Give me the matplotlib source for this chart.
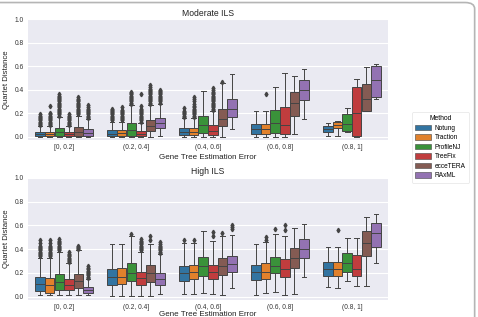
import numpy as np
import matplotlib
matplotlib.use("Agg")
import matplotlib.pyplot as plt
from matplotlib.patches import Patch, FancyBboxPatch

plt.rcParams['font.family'] = ['Liberation Sans', 'DejaVu Sans']

groups = ['[0, 0.2]', '(0.2, 0.4]', '(0.4, 0.6]', '(0.6, 0.8]', '(0.8, 1]']
methods = ['Notung', 'Traction', 'ProfileNJ', 'TreeFix', 'ecceTERA', 'RAxML']
colors = ['#3274a1', '#e1812c', '#3a923a', '#c03d3e', '#845b53', '#9372b2']
titles = ['Moderate ILS', 'High ILS']

# box stats, one row per error bin, one column per method
# Moderate ILS
lo_mod = [[0, 0, 0, 0, 0, 0],
          [0, 0, 0, 0, 0, 0.01],
          [0, 0, 0, 0, 0, 0.07],
          [0, 0, 0, 0, 0.02, 0.15],
          [0.005, 0.005, 0.045, 0, 0.215, 0.32]]
q1_mod = [[0.005, 0.005, 0.01, 0.005, 0.01, 0.01],
          [0.005, 0.005, 0.01, 0.005, 0.05, 0.075],
          [0.015, 0.015, 0.03, 0.015, 0.095, 0.17],
          [0.025, 0.025, 0.03, 0.02, 0.175, 0.31],
          [0.04, 0.075, 0.05, 0.003, 0.22, 0.335]]
med_mod = [[0.02, 0.02, 0.04, 0.02, 0.04, 0.035],
           [0.025, 0.03, 0.06, 0.025, 0.09, 0.12],
           [0.04, 0.04, 0.1, 0.05, 0.155, 0.24],
           [0.065, 0.065, 0.12, 0.1, 0.285, 0.4],
           [0.07, 0.1, 0.11, 0.2, 0.32, 0.48]]
q3_mod = [[0.04, 0.04, 0.077, 0.04, 0.08, 0.065],
          [0.055, 0.055, 0.115, 0.05, 0.14, 0.16],
          [0.075, 0.075, 0.175, 0.1, 0.24, 0.32],
          [0.105, 0.105, 0.225, 0.25, 0.38, 0.485],
          [0.095, 0.127, 0.19, 0.425, 0.445, 0.605]]
hi_mod = [[0.09, 0.09, 0.17, 0.09, 0.18, 0.15],
          [0.13, 0.13, 0.27, 0.12, 0.27, 0.28],
          [0.16, 0.16, 0.385, 0.22, 0.455, 0.53],
          [0.22, 0.22, 0.42, 0.54, 0.515, 0.575],
          [0.12, 0.135, 0.245, 0.49, 0.59, 0.615]]
fl_mod = [
    [[0.10, 0.11, 0.12, 0.13, 0.14, 0.15, 0.16, 0.17, 0.18, 0.19],
     [0.10, 0.11, 0.12, 0.13, 0.14, 0.15, 0.16, 0.17, 0.18, 0.19, 0.20, 0.26],
     [0.18, 0.19, 0.20, 0.21, 0.22, 0.23, 0.24, 0.25, 0.26, 0.27, 0.28, 0.29, 0.30, 0.31, 0.32, 0.33, 0.34, 0.35, 0.36],
     [0.10, 0.11, 0.12, 0.13, 0.14, 0.15, 0.16, 0.17, 0.18, 0.195],
     [0.19, 0.20, 0.21, 0.22, 0.23, 0.24, 0.25, 0.26, 0.27, 0.28, 0.29, 0.30, 0.31, 0.32, 0.34],
     [0.16, 0.17, 0.18, 0.19, 0.20, 0.21, 0.22, 0.23, 0.24, 0.25, 0.27]],
    [[0.14, 0.15, 0.16, 0.17, 0.18, 0.19, 0.20, 0.21, 0.22, 0.23, 0.24],
     [0.14, 0.15, 0.16, 0.17, 0.18, 0.19, 0.20, 0.21, 0.22, 0.23, 0.25],
     [0.28, 0.29, 0.30, 0.31, 0.32, 0.33, 0.34, 0.35, 0.36, 0.37, 0.38],
     [0.13, 0.14, 0.15, 0.16, 0.17, 0.18, 0.19, 0.20, 0.21, 0.22, 0.23, 0.24, 0.26, 0.365],
     [0.28, 0.29, 0.30, 0.31, 0.32, 0.33, 0.34, 0.35, 0.36, 0.37, 0.38, 0.39, 0.40, 0.41, 0.42, 0.44],
     [0.29, 0.30, 0.31, 0.32, 0.33, 0.34, 0.35, 0.36, 0.37, 0.38, 0.39, 0.40]],
    [[0.17, 0.18, 0.19, 0.20, 0.21, 0.22, 0.245],
     [0.17, 0.18, 0.19, 0.20, 0.21, 0.22, 0.23, 0.24, 0.25, 0.26, 0.28, 0.30, 0.32, 0.34],
     [],
     [0.23, 0.24, 0.25, 0.26, 0.27, 0.28, 0.29, 0.30, 0.31, 0.32, 0.33, 0.34, 0.35, 0.36, 0.37, 0.38, 0.40, 0.415],
     [0.465],
     []],
    [[], [0.365], [], [], [], []],
    [[], [], [], [], [], []]]

# High ILS
lo_high = [[0.01, 0.01, 0.01, 0.01, 0.01, 0.01],
           [0.005, 0.005, 0.005, 0.005, 0.005, 0.02],
           [0.02, 0.025, 0.03, 0.02, 0.01, 0.07],
           [0.015, 0.035, 0.04, 0.015, 0.02, 0.17],
           [0.085, 0.07, 0.135, 0.09, 0.09, 0.285]]
q1_high = [[0.045, 0.035, 0.06, 0.06, 0.075, 0.03],
           [0.1, 0.11, 0.13, 0.095, 0.125, 0.1],
           [0.135, 0.145, 0.175, 0.145, 0.185, 0.21],
           [0.14, 0.15, 0.2, 0.165, 0.24, 0.325],
           [0.175, 0.175, 0.205, 0.175, 0.34, 0.42]]
med_high = [[0.11, 0.095, 0.125, 0.1, 0.13, 0.055],
            [0.165, 0.165, 0.2, 0.155, 0.2, 0.145],
            [0.2, 0.205, 0.26, 0.21, 0.26, 0.275],
            [0.205, 0.21, 0.26, 0.235, 0.33, 0.4],
            [0.235, 0.235, 0.28, 0.235, 0.45, 0.535]]
q3_high = [[0.165, 0.16, 0.19, 0.145, 0.195, 0.08],
           [0.235, 0.24, 0.285, 0.21, 0.265, 0.2],
           [0.26, 0.27, 0.335, 0.27, 0.325, 0.345],
           [0.265, 0.28, 0.335, 0.315, 0.41, 0.49],
           [0.295, 0.295, 0.37, 0.355, 0.555, 0.62]]
hi_high = [[0.33, 0.33, 0.38, 0.28, 0.39, 0.15],
           [0.445, 0.445, 0.515, 0.38, 0.44, 0.36],
           [0.45, 0.45, 0.55, 0.465, 0.51, 0.52],
           [0.445, 0.46, 0.525, 0.515, 0.575, 0.61],
           [0.42, 0.42, 0.495, 0.495, 0.675, 0.695]]
fl_high = [
    [[0.34, 0.35, 0.36, 0.37, 0.38, 0.39, 0.40, 0.41, 0.42, 0.43, 0.45, 0.475],
     [0.34, 0.35, 0.36, 0.37, 0.38, 0.39, 0.40, 0.41, 0.42, 0.43, 0.45, 0.475],
     [0.39, 0.40, 0.41, 0.42, 0.43, 0.44, 0.45, 0.46, 0.47, 0.49],
     [0.29, 0.30, 0.31, 0.32, 0.33, 0.34, 0.35, 0.36, 0.375],
     [0.40, 0.41, 0.42, 0.43],
     [0.16, 0.17, 0.18, 0.19, 0.20, 0.21, 0.22, 0.23, 0.24, 0.26]],
    [[], [], [0.53],
     [0.39, 0.40, 0.41, 0.42, 0.43, 0.44, 0.45, 0.46, 0.47, 0.49],
     [0.48, 0.515],
     [0.37, 0.38, 0.39, 0.40, 0.41, 0.42, 0.43, 0.44, 0.46]],
    [[0.48], [0.48], [], [0.515, 0.545], [0.54], [0.57, 0.59, 0.60]],
    [[], [0.48, 0.50], [0.57], [0.56, 0.60], [], []],
    [[], [0.56], [], [], [], []]]

panels = [(lo_mod, q1_mod, med_mod, q3_mod, hi_mod, fl_mod),
          (lo_high, q1_high, med_high, q3_high, hi_high, fl_high)]

line_c = '#444444'
bg = '#eaeaf2'

fig = plt.figure(figsize=(4.78, 3.17), dpi=100)
ax_boxes = [[0.0586, 0.558, 0.7531, 0.382], [0.0586, 0.0536, 0.7531, 0.385]]

n = len(methods)
bw = 0.8 / n
for p, (lo, q1, med, q3, hi, fl) in enumerate(panels):
    ax = fig.add_axes(ax_boxes[p])
    ax.set_facecolor(bg)
    for s in ax.spines.values():
        s.set_visible(False)
    ax.set_axisbelow(True)
    ax.yaxis.grid(True, color='white', linewidth=0.8)
    for j in range(n):
        stats = []
        pos = []
        for g in range(len(groups)):
            stats.append(dict(med=med[g][j], q1=q1[g][j], q3=q3[g][j],
                              whislo=lo[g][j], whishi=hi[g][j], fliers=fl[g][j]))
            pos.append(g - 0.4 + bw * (j + 0.5))
        ax.bxp(stats, positions=pos, widths=bw * 0.98, patch_artist=True,
               boxprops=dict(facecolor=colors[j], edgecolor=line_c, linewidth=0.7),
               medianprops=dict(color=line_c, linewidth=0.7),
               whiskerprops=dict(color=line_c, linewidth=0.7),
               capprops=dict(color=line_c, linewidth=0.7),
               flierprops=dict(marker='d', markerfacecolor=line_c, markeredgecolor=line_c,
                               markersize=2.3, linestyle='none'),
               manage_ticks=False)
    ax.set_xlim(-0.5, len(groups) - 0.5)
    ax.set_ylim(-0.028, 1.0)
    ax.set_yticks([0.0, 0.2, 0.4, 0.6, 0.8, 1.0])
    ax.set_yticklabels(['0.0', '0.2', '0.4', '0.6', '0.8', '1.0'])
    ax.set_xticks(range(len(groups)))
    ax.set_xticklabels(groups)
    ax.tick_params(length=0, labelsize=4.8, colors='#333333', pad=3)
    ax.set_ylabel('Quartet Distance', fontsize=5.6, color='#222222', labelpad=3)
    ax.set_xlabel('Gene Tree Estimation Error', fontsize=5.8, color='#222222',
                  labelpad=2 if p == 0 else 0)
    ax.set_title(titles[p], fontsize=6.2, color='#222222', pad=2.5)

handles = [Patch(facecolor=c, edgecolor=line_c, linewidth=0.4) for c in colors]
leg = fig.legend(handles, methods, title='Method', loc='center left',
                 bbox_to_anchor=(0.855, 0.535), fontsize=4.7, title_fontsize=4.9,
                 frameon=True, handlelength=2.4, handleheight=0.9, labelspacing=0.38,
                 borderpad=0.5, handletextpad=0.6)
leg.get_frame().set_edgecolor('#dddddd')
leg.get_frame().set_linewidth(0.5)

# outer frame of the figure image
frame = FancyBboxPatch((-0.05, -0.05), 1.043, 1.042, transform=fig.transFigure,
                       boxstyle='round,pad=0,rounding_size=0.02', facecolor='none',
                       edgecolor='#b5b5b5', linewidth=1.2, clip_on=False)
fig.patches.append(frame)

fig.savefig('out.png', dpi=100)
